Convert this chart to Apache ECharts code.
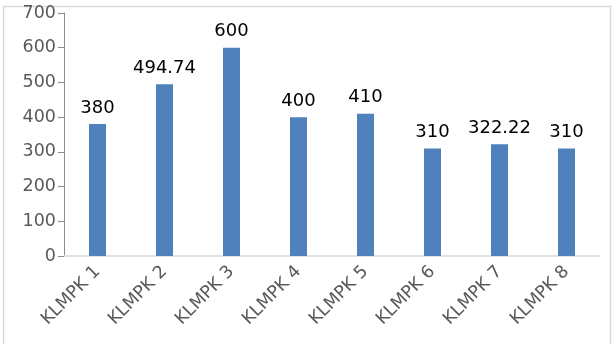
<!DOCTYPE html>
<html>
<head>
<meta charset="utf-8">
<script src="https://cdn.jsdelivr.net/npm/echarts@6/dist/echarts.min.js"></script>
<style>
  html, body { margin: 0; padding: 0; background: #fff; }
  #chart { width: 616px; height: 344px; }
</style>
</head>
<body>
<div id="chart"></div>
<script>
var categories = ['KLMPK 1', 'KLMPK 2', 'KLMPK 3', 'KLMPK 4', 'KLMPK 5', 'KLMPK 6', 'KLMPK 7', 'KLMPK 8'];
var values = [380, 494.74, 600, 400, 410, 310, 322.22, 310];

var myChart = echarts.init(document.getElementById('chart'));

var option = {
    animation: false,
    textStyle: { fontFamily: 'DejaVu Sans' },
    graphic: [{
        type: 'rect',
        shape: { x: 3.5, y: 6.5, width: 607, height: 345 },
        style: { fill: 'none', stroke: '#d9d9d9', lineWidth: 1.5 },
        silent: true
    }],
    grid: { left: 64, right: 16, top: 13, bottom: 88 },
    xAxis: {
        type: 'category',
        data: categories,
        axisLine: { lineStyle: { color: '#d9d9d9', width: 1.5 } },
        axisTick: { show: false },
        axisLabel: {
            rotate: 45,
            color: '#595959',
            fontSize: 17.5,
            margin: 13
        }
    },
    yAxis: {
        type: 'value',
        min: 0,
        max: 700,
        interval: 100,
        splitLine: { show: false },
        axisLine: { show: true, lineStyle: { color: '#8c8c8c' } },
        axisTick: { show: true, length: 6, lineStyle: { color: '#8c8c8c' } },
        axisLabel: { color: '#595959', fontSize: 17.5, margin: 8 }
    },
    series: [{
        type: 'bar',
        data: values,
        barWidth: 17,
        itemStyle: { color: '#4f81bd' },
        label: {
            show: true,
            position: 'top',
            distance: 7,
            color: '#000',
            fontSize: 18
        }
    }]
};

myChart.setOption(option);
</script>
</body>
</html>
